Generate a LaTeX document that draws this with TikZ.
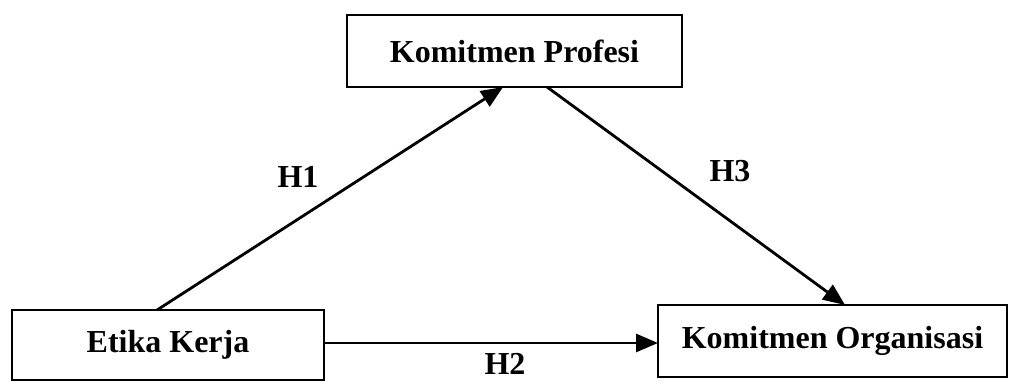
\documentclass[tikz,border=0pt]{standalone}
\usepackage{fontspec}
\setmainfont{Liberation Serif}
\usetikzlibrary{calc,arrows.meta}
\begin{document}
\begin{tikzpicture}[
  x=1pt, y=1pt,
  every node/.style={font=\fontsize{32}{38}\selectfont\bfseries},
  box/.style={draw=black, line width=2.8pt, rectangle, inner sep=0pt, outer sep=0pt, fill=white},
  arr/.style={line width=2.8pt, -{Triangle[length=22pt,width=18pt]}},
  lbl/.style={inner sep=0pt}
]
\useasboundingbox (0,0) rectangle (1010,-382);
\node[box, minimum width=335pt, minimum height=72pt] (kp) at (514.5,-51) {Komitmen Profesi};
\node[box, minimum width=312pt, minimum height=70pt] (ek) at (168,-345) {Etika Kerja};
\node[box, minimum width=349pt, minimum height=72pt] (ko) at (832.5,-341) {Komitmen Organisasi};
\coordinate (h1s) at ($(ek.north west)!0.465!(ek.north east)$);
\coordinate (h1e) at ($(kp.south west)!0.466!(kp.south east)$);
\coordinate (h3s) at ($(kp.south west)!0.597!(kp.south east)$);
\coordinate (h3e) at ($(ko.north west)!0.536!(ko.north east)$);
\coordinate (h2s) at ($(ek.east)+(0,2)$);
\draw[arr] (h1s) -- (h1e);
\draw[arr] (h3s) -- (h3e);
\draw[arr] (h2s) -- (h2s -| ko.west);
\node[lbl] (h1) at (298,-177) {H1};
\node[lbl] (h3) at (730,-171) {H3};
\node[lbl] (h2) at (505,-364) {H2};
\end{tikzpicture}
\end{document}
